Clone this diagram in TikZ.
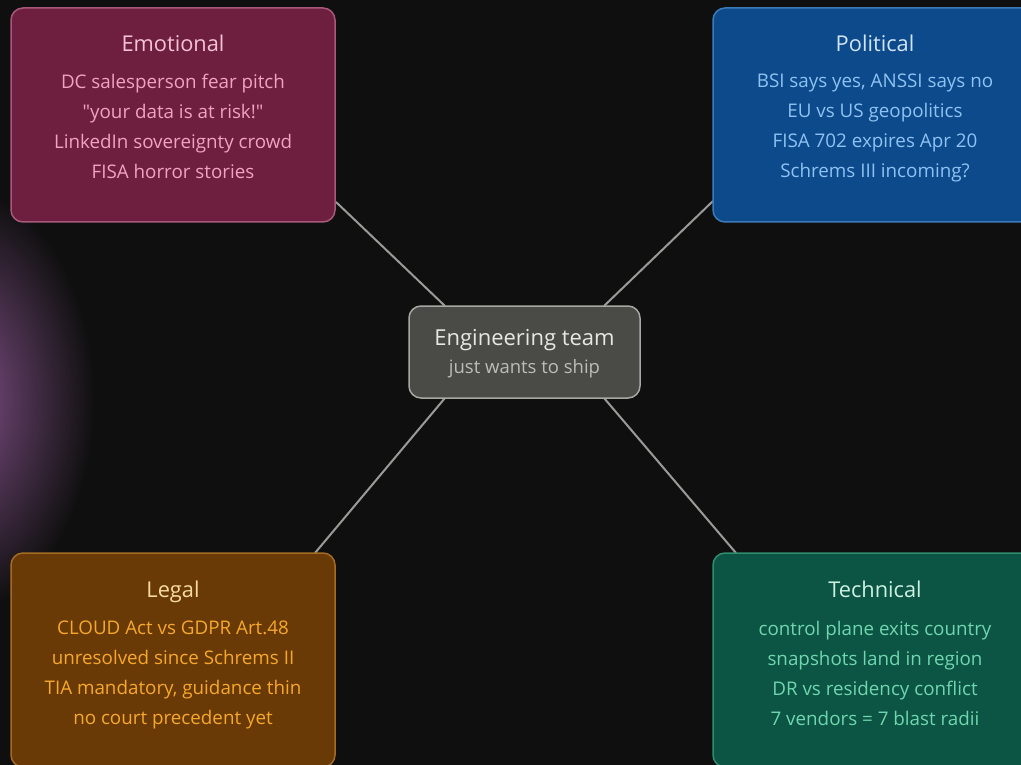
\documentclass[tikz,border=0pt]{standalone}
\usepackage{fontspec}
\setmainfont{Open Sans}[Ligatures=TeXOff]
\definecolor{bg}{HTML}{0F0F0F}
\definecolor{glow}{HTML}{85528C}
\definecolor{emofill}{HTML}{6E1F40}
\definecolor{emoline}{HTML}{A8587A}
\definecolor{emotitle}{HTML}{F4C2D5}
\definecolor{emotext}{HTML}{EFA2C2}
\definecolor{polfill}{HTML}{0D4A8C}
\definecolor{polline}{HTML}{3C7AB8}
\definecolor{poltitle}{HTML}{D0E4F8}
\definecolor{poltext}{HTML}{8EC2F2}
\definecolor{legfill}{HTML}{6A3A06}
\definecolor{legline}{HTML}{A46C22}
\definecolor{legtitle}{HTML}{F7DAA2}
\definecolor{legtext}{HTML}{F5A82A}
\definecolor{tecfill}{HTML}{0C5443}
\definecolor{tecline}{HTML}{2F8C6D}
\definecolor{tectitle}{HTML}{CBF1E2}
\definecolor{tectext}{HTML}{70D6AF}
\definecolor{engfill}{HTML}{4A4A47}
\definecolor{engline}{HTML}{A8A8A2}
\definecolor{engtitle}{HTML}{E8E8E2}
\definecolor{engtext}{HTML}{BDBDB6}
\definecolor{conn}{HTML}{9A9A96}
\begin{document}
\begin{tikzpicture}[x=1pt,y=-1pt,
  card/.style={draw, line width=1.5pt, rounded corners=12pt, minimum width=324pt, minimum height=214pt, inner sep=0pt},
  cardtitle/.style={anchor=base, inner sep=0pt, font=\fontsize{21.8}{26}\selectfont},
  cardtext/.style={anchor=north, align=center, font=\fontsize{18.8}{30}\selectfont, inner sep=0pt},
  link/.style={draw=conn, line width=2pt}]
\fill[bg] (0,0) rectangle (1021,765);
\useasboundingbox (0,0) rectangle (1021,765);
\clip (0,0) rectangle (1021,765);
\shade[inner color=glow, outer color=bg] (-45,400) ellipse (140 and 215);
% connectors
\coordinate (c1) at (336,202);
\coordinate (c2) at (713,201);
\coordinate (c3) at (315,553);
\coordinate (c4) at (736,553);
\coordinate (e1) at (445,306);
\coordinate (e2) at (604,306);
\coordinate (e3) at (445,398);
\coordinate (e4) at (604,398);
\draw[link] (c1) -- (e1);
\draw[link] (c2) -- (e2);
\draw[link] (c3) -- (e3);
\draw[link] (c4) -- (e4);
% boxes
\node[draw=engline, fill=engfill, line width=1.5pt, rounded corners=12pt, minimum width=231pt, minimum height=92pt] (eng) at (524.5,352) {};
\node[card, draw=emoline, fill=emofill] (emo) at (173,115) {};
\node[card, draw=polline, fill=polfill] (pol) at (875,115) {};
\node[card, draw=legline, fill=legfill] (leg) at (173,660) {};
\node[card, draw=tecline, fill=tecfill] (tec) at (875,660) {};
% texts
\node[cardtitle, text=emotitle] (emot) at (173,52) {Emotional};
\node[cardtext, text=emotext] (emob) at (173,74) {DC salesperson fear pitch\\"your data is at risk!"\\LinkedIn sovereignty crowd\\FISA horror stories};
\node[cardtitle, text=poltitle] (polt) at (875,52) {Political};
\node[cardtext, text=poltext] (polb) at (875,74) {BSI says yes, ANSSI says no\\EU vs US geopolitics\\FISA 702 expires Apr 20\\Schrems III incoming?};
\node[cardtitle, text=legtitle] (legt) at (173,597) {Legal};
\node[cardtext, text=legtext] (legb) at (173,621) {CLOUD Act vs GDPR Art.48\\unresolved since Schrems II\\TIA mandatory, guidance thin\\no court precedent yet};
\node[cardtitle, text=tectitle] (tect) at (875,597) {Technical};
\node[cardtext, text=tectext] (tecb) at (875,621) {control plane exits country\\snapshots land in region\\DR vs residency conflict\\7 vendors = 7 blast radii};
\node[anchor=base, inner sep=0pt, text=engtitle, font=\fontsize{22}{26}\selectfont] (engt) at (524.5,345) {Engineering team};
\node[anchor=base, inner sep=0pt, text=engtext, font=\fontsize{18.5}{22}\selectfont] (engs) at (524.5,373) {just wants to ship};
\end{tikzpicture}
\end{document}
